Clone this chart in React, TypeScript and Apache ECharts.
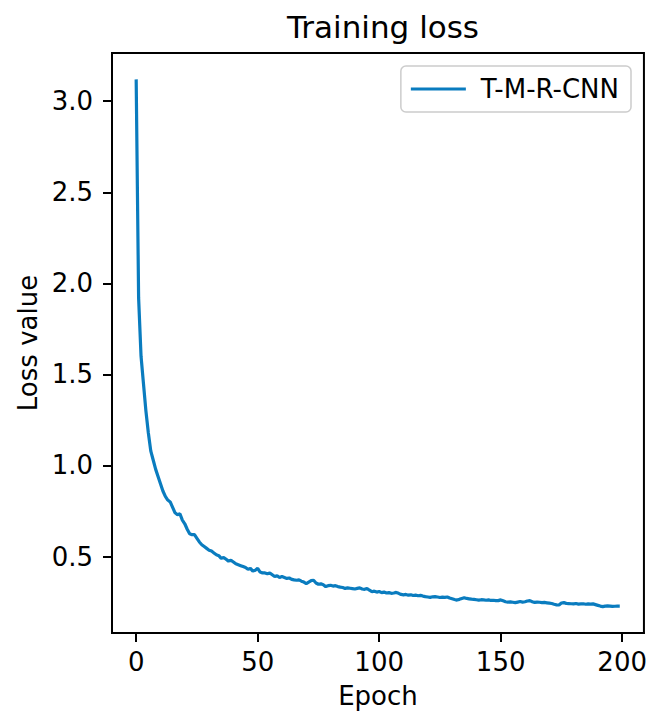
import React, { useEffect, useRef } from "react";
import * as echarts from "echarts";

const seriesName = "T-M-R-CNN";
const titleText = "Training loss";
const xAxisName = "Epoch";
const yAxisName = "Loss value";
const xTicks = [0, 50, 100, 150, 200];
const yTicks = [0.5, 1.0, 1.5, 2.0, 2.5, 3.0];

// loss per epoch (0..199)
const lossValues = [
  3.12, 1.92, 1.6, 1.45, 1.3, 1.18, 1.08, 1.03, 0.98, 0.94,
  0.9, 0.86, 0.83, 0.81, 0.8, 0.77, 0.74, 0.73, 0.735, 0.7,
  0.68, 0.65, 0.625, 0.62, 0.62, 0.6, 0.58, 0.565, 0.555, 0.545,
  0.535, 0.53, 0.52, 0.51, 0.505, 0.49, 0.495, 0.485, 0.475, 0.48,
  0.47, 0.46, 0.455, 0.45, 0.445, 0.44, 0.43, 0.435, 0.42, 0.425,
  0.435, 0.415, 0.41, 0.41, 0.405, 0.41, 0.4, 0.39, 0.395, 0.385,
  0.39, 0.385, 0.38, 0.382, 0.375, 0.372, 0.37, 0.372, 0.365, 0.36,
  0.352, 0.36, 0.368, 0.37, 0.355, 0.348, 0.35, 0.345, 0.335, 0.34,
  0.342, 0.338, 0.34, 0.335, 0.332, 0.33, 0.325, 0.328, 0.326, 0.324,
  0.322, 0.325, 0.328, 0.322, 0.32, 0.325, 0.315, 0.307, 0.31, 0.305,
  0.308, 0.302, 0.305, 0.3, 0.302, 0.298, 0.3, 0.303, 0.298, 0.292,
  0.29, 0.292, 0.288, 0.29, 0.286, 0.288, 0.285, 0.287, 0.283, 0.28,
  0.278, 0.276, 0.279, 0.28, 0.278, 0.275, 0.277, 0.276, 0.278, 0.272,
  0.268, 0.264, 0.261, 0.265, 0.27, 0.274, 0.27, 0.268, 0.266, 0.265,
  0.263, 0.261, 0.263, 0.262, 0.26, 0.262, 0.259, 0.26, 0.258, 0.258,
  0.262, 0.257, 0.252, 0.25, 0.251, 0.249, 0.247, 0.25, 0.253, 0.25,
  0.252, 0.256, 0.258, 0.252, 0.248, 0.25, 0.249, 0.247, 0.248, 0.246,
  0.244, 0.242, 0.238, 0.235, 0.234, 0.245, 0.247, 0.243, 0.242, 0.241,
  0.24, 0.242, 0.239, 0.24, 0.241, 0.238, 0.24, 0.239, 0.24, 0.236,
  0.232, 0.228, 0.225, 0.228, 0.229, 0.228, 0.226, 0.227, 0.228, 0.228,
];

const FONT = "DejaVu Sans";
const LINE_COLOR = "#0a7cbf";

export default function App() {
  const ref = useRef<HTMLDivElement>(null);
  useEffect(() => {
    if (!ref.current) return;
    const chart = echarts.init(ref.current, null, { renderer: "svg" });
    const data = lossValues.map((v, i) => [i, v]);
    const n = lossValues.length - 1;
    const ymin = Math.min(...lossValues);
    const ymax = Math.max(...lossValues);
    const yr = ymax - ymin;
    chart.setOption({
      animation: false,
      backgroundColor: "#fff",
      title: {
        text: titleText,
        left: 378,
        top: 6,
        textAlign: "center",
        textStyle: { fontFamily: FONT, fontSize: 31, fontWeight: "normal", color: "#000" },
      },
      legend: {
        data: [{ name: seriesName, icon: "rect" }],
        right: 19,
        top: 66,
        orient: "vertical",
        itemWidth: 55,
        itemHeight: 3,
        padding: [8, 12, 8, 10],
        backgroundColor: "rgba(255,255,255,0.8)",
        borderColor: "#cccccc",
        borderWidth: 1.5,
        borderRadius: 5,
        textStyle: { fontFamily: FONT, fontSize: 26, color: "#000", padding: [0, 0, 0, 10], lineHeight: 30 },
      },
      grid: {
        left: 112,
        right: 6,
        top: 53,
        bottom: 80,
        show: true,
        borderColor: "#000",
        borderWidth: 2,
        containLabel: false,
      },
      xAxis: {
        type: "value",
        min: -0.05 * n,
        max: n * 1.05,
        name: xAxisName,
        nameLocation: "middle",
        nameGap: 50,
        nameTextStyle: { fontFamily: FONT, fontSize: 26, color: "#000" },
        axisLine: { show: true, onZero: false, lineStyle: { color: "#000", width: 2 } },
        axisTick: { show: true, inside: false, length: 9, lineStyle: { color: "#000", width: 2 }, customValues: xTicks },
        axisLabel: { fontFamily: FONT, fontSize: 26, color: "#000", margin: 16, customValues: xTicks },
        splitLine: { show: false },
      },
      yAxis: {
        type: "value",
        min: ymin - 0.05 * yr,
        max: ymax + 0.05 * yr,
        name: yAxisName,
        nameLocation: "middle",
        nameRotate: 90,
        nameGap: 66,
        nameTextStyle: { fontFamily: FONT, fontSize: 26, color: "#000" },
        axisLine: { show: true, onZero: false, lineStyle: { color: "#000", width: 2 } },
        axisTick: { show: true, inside: false, length: 9, lineStyle: { color: "#000", width: 2 }, customValues: yTicks },
        axisLabel: {
          fontFamily: FONT,
          fontSize: 26,
          color: "#000",
          margin: 19,
          customValues: yTicks,
          formatter: (v: number) => v.toFixed(1),
        },
        splitLine: { show: false },
      },
      series: [
        {
          name: seriesName,
          type: "line",
          data,
          symbol: "none",
          showSymbol: false,
          lineStyle: { color: LINE_COLOR, width: 3.2 },
          itemStyle: { color: LINE_COLOR },
        },
      ],
    });
    return () => chart.dispose();
  }, []);
  return (
    <div
      ref={ref}
      style={{ position: "absolute", left: 0, top: 0, width: 650, height: 714 }}
    />
  );
}
